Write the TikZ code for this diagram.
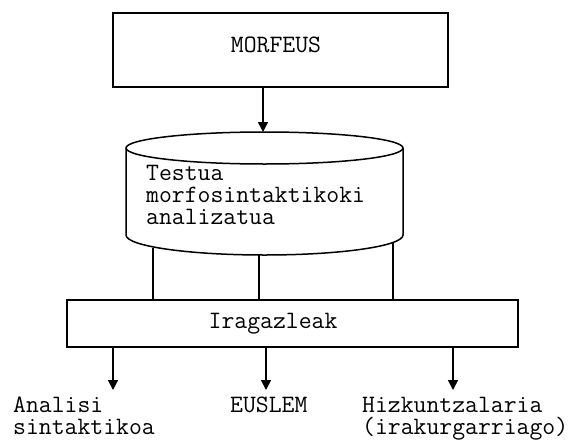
\documentclass[tikz,border=0pt]{standalone}
\usepackage{fontspec}
\usetikzlibrary{arrows.meta,positioning}

\begin{document}
\begin{tikzpicture}[
	%	style def
    x=1pt, y=-1pt,
    box/.style={draw, line width=2pt, inner sep=0pt},
    txt/.style={font=\ttfamily\fontsize{25}{22}\selectfont, inner sep=0pt, align=left},
    link/.style={line width=1.5pt},
    flow/.style={line width=1.5pt, -{Triangle[length=10pt,width=10pt]}}
    ]
    \useasboundingbox (0,0) rectangle (583,439);

	% boxes
	\node[box, minimum width=335pt, minimum height=74pt] (morfeus) at (280.5,50) {};
	\node[txt] (morfeustxt) at (276,45) {MORFEUS};
	\node[box, minimum width=451pt, minimum height=47pt] (iragazle) at (292.5,323.5) {};
	\node[txt] (iragazletxt) at (273,324) {Iragazleak};

	% cylinder with the analysed text
	\draw[link] (264.5,148) ellipse [x radius=138.5, y radius=16];
	\draw[link] (126,148) -- (126,235) arc[start angle=180, end angle=0, x radius=138.5, y radius=20] -- (403,148);
	% base of a multi-line node = its last line
	\node[txt, anchor=base west] (testua) at (146,224) {Testua\\morfosintaktikoki\\analizatua};

	% points on the cylinder
	\coordinate (cyltop) at (263,132);
	\coordinate (c1) at (153,247.5);
	\coordinate (c2) at (259,255);
	\coordinate (c3) at (393,242.5);

	% outputs
	\coordinate (o1) at (113,390);
	\coordinate (o2) at (266,390);
	\coordinate (o3) at (453,390);

	\draw[flow] (cyltop |- morfeus.south) -- (cyltop);
	\foreach \c in {c1,c2,c3}
		\draw[link] (\c) -- (\c |- iragazle.north);
	\foreach \o in {o1,o2,o3}
		\draw[flow] (\o |- iragazle.south) -- (\o);

	\node[txt, anchor=base west] (analisi) at (13,434) {Analisi\\sintaktikoa};
	\node[txt, anchor=base west] (euslem) at (230,412) {EUSLEM};
	\node[txt, anchor=base west] (hizkuntz) at (362,434) {Hizkuntzalaria\\(irakurgarriago)};
\end{tikzpicture}
\end{document}
